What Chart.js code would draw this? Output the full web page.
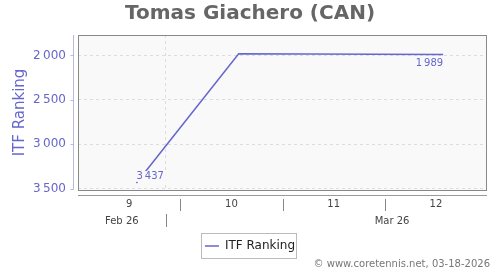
<!DOCTYPE html>
<html>
<head>
<meta charset="utf-8">
<script src="https://cdn.jsdelivr.net/npm/chart.js@4.4.1/dist/chart.umd.min.js"></script>
<style>
  html, body { margin: 0; padding: 0; background: #fff; }
  #wrap { width: 500px; height: 270px; }
</style>
</head>
<body>
<div id="wrap"><canvas id="rankChart" width="500" height="270"></canvas></div>
<script>
// Data (x = days since Mon Feb 23, 2026)
const days = [4, 11, 25];
const ranking = [3437, 1982, 1989];
const yTicks = [2000, 2500, 3000, 3500];
const weekLabels = ["9", "10", "11", "12"];
const weekStarts = [0, 7, 14, 21];
const monthLabels = ["Feb 26", "Mar 26"];
const monthStarts = [-22, 6];
const monthEnds = [6, 37];

const purple = "#6666cc";
const font = "DejaVu Sans";

const fmt = v => String(v).replace(/\B(?=(\d{3})+(?!\d))/g, "\u2009");

const decor = {
    id: "decor",
    beforeDraw(chart) {
        const { ctx, chartArea: a } = chart;
        ctx.save();
        ctx.fillStyle = "#f9f9f9";
        ctx.fillRect(a.left, a.top, a.right - a.left, a.bottom - a.top);
        ctx.restore();
    },
    afterDatasetsDraw(chart) {
        const { ctx } = chart;
        const pts = chart.getDatasetMeta(0).data;
        ctx.save();
        ctx.font = "10px " + font;
        ctx.textBaseline = "middle";
        // first point: label above right
        const p0 = pts[0];
        let t = fmt(ranking[0]);
        let w = ctx.measureText(t).width;
        ctx.fillStyle = "#f9f9f9";
        ctx.fillRect(p0.x, p0.y - 12, w + 2, 11);
        ctx.fillStyle = purple;
        ctx.textAlign = "left";
        ctx.fillText(t, p0.x, p0.y - 6.5);
        // last point: label below left
        const pl = pts[pts.length - 1];
        t = fmt(ranking[ranking.length - 1]);
        ctx.textAlign = "right";
        ctx.fillText(t, pl.x, pl.y + 9);
        ctx.restore();
    },
    afterDraw(chart) {
        const { ctx, chartArea: a } = chart;
        const xs = chart.scales.x, ys = chart.scales.y;
        ctx.save();
        // plot border
        ctx.strokeStyle = "#888";
        ctx.lineWidth = 1;
        ctx.strokeRect(a.left + 0.5, a.top + 0.5, a.right - a.left - 1, a.bottom - a.top);

        // y axis line and tick marks
        ctx.strokeStyle = "#b8b8e0";
        const ax = Math.round(a.left - 5) + 0.5;
        ctx.beginPath();
        ctx.moveTo(ax, a.top);
        ctx.lineTo(ax, a.bottom);
        yTicks.forEach(v => {
            const y = Math.round(ys.getPixelForValue(v)) + 0.5;
            ctx.moveTo(ax - 3, y);
            ctx.lineTo(ax, y);
        });
        ctx.stroke();

        // x axis line
        ctx.strokeStyle = "#999";
        const bl = Math.round(a.bottom + 5) + 0.5;
        ctx.beginPath();
        ctx.moveTo(a.left, bl);
        ctx.lineTo(a.right, bl);
        ctx.stroke();

        // week row
        ctx.font = "10px " + font;
        ctx.fillStyle = "#444";
        ctx.textAlign = "center";
        ctx.textBaseline = "middle";
        ctx.strokeStyle = "#888";
        ctx.beginPath();
        weekLabels.forEach((lab, i) => {
            const s = weekStarts[i];
            ctx.fillText(lab, xs.getPixelForValue(s + 3.5), a.bottom + 14);
            if (s > xs.min) {
                const x = Math.round(xs.getPixelForValue(s)) + 0.5;
                ctx.moveTo(x, a.bottom + 9);
                ctx.lineTo(x, a.bottom + 21);
            }
        });
        // month row
        monthLabels.forEach((lab, i) => {
            const s = monthStarts[i], e = monthEnds[i];
            let c = (s + e) / 2;
            if (c < xs.min || c > xs.max) {
                c = (Math.max(s, xs.min) + Math.min(e, xs.max)) / 2;
            }
            ctx.fillText(lab, xs.getPixelForValue(c), a.bottom + 31);
            if (s > xs.min && s < xs.max) {
                const x = Math.round(xs.getPixelForValue(s)) + 0.5;
                ctx.moveTo(x, a.bottom + 24);
                ctx.lineTo(x, a.bottom + 37);
            }
        });
        ctx.stroke();

        // legend frame
        const hb = chart.legend.legendHitBoxes[0];
        if (hb) {
            ctx.strokeStyle = "#bbb";
            ctx.strokeRect(Math.round(hb.left - 4) + 0.5, Math.round(hb.top - 7) + 0.5,
                Math.round(hb.width + 5), Math.round(hb.height + 13));
        }

        // footer
        ctx.font = "10px " + font;
        ctx.fillStyle = "#777";
        ctx.textAlign = "right";
        ctx.fillText("\u00a9 www.coretennis.net, 03-18-2026", 490, 264);
        ctx.restore();
    }
};

new Chart(document.getElementById("rankChart"), {
    type: "line",
    data: {
        datasets: [{
            label: "ITF Ranking",
            data: days.map((d, i) => ({ x: d, y: ranking[i] })),
            borderColor: purple,
            backgroundColor: purple,
            borderWidth: 1.5,
            pointRadius: 0,
            tension: 0
        }]
    },
    options: {
        responsive: false,
        animation: false,
        layout: { padding: { left: 0, right: 0, top: 0, bottom: 8 } },
        scales: {
            x: {
                type: "linear",
                min: 0,
                max: 28,
                afterBuildTicks: s => { s.ticks = [{ value: 6 }]; },
                afterFit: s => { s.height = 44; },
                ticks: { display: false },
                grid: { color: "#ddd", drawTicks: false },
                border: { display: false, dash: [3, 3] }
            },
            y: {
                reverse: true,
                min: 1770,
                max: 3515,
                afterBuildTicks: s => { s.ticks = yTicks.map(v => ({ value: v })); },
                afterFit: s => { s.width = 78; },
                ticks: {
                    color: purple,
                    font: { family: font, size: 12 },
                    padding: 12,
                    callback: v => fmt(v)
                },
                grid: { color: "#ddd", drawTicks: false },
                border: { display: false, dash: [3, 3] },
                title: {
                    display: true,
                    text: "ITF Ranking",
                    color: purple,
                    font: { family: font, size: 15 },
                    padding: { top: 11, bottom: 0 }
                }
            },
            // empty right-hand margin so the legend stays centred on the page
            yr: {
                position: "right",
                display: true,
                afterFit: s => { s.width = 13; },
                ticks: { display: false },
                grid: { display: false },
                border: { display: false }
            }
        },
        plugins: {
            title: {
                display: true,
                text: "Tomas Giachero (CAN)",
                color: "#666",
                font: { family: font, size: 20, weight: "bold" },
                padding: { top: 2, bottom: 9 }
            },
            legend: {
                position: "bottom",
                labels: {
                    usePointStyle: true,
                    pointStyle: "line",
                    pointStyleWidth: 14,
                    color: "#222",
                    font: { family: font, size: 12 },
                    padding: 6
                }
            },
            tooltip: { enabled: false }
        }
    },
    plugins: [decor]
});
</script>
</body>
</html>
